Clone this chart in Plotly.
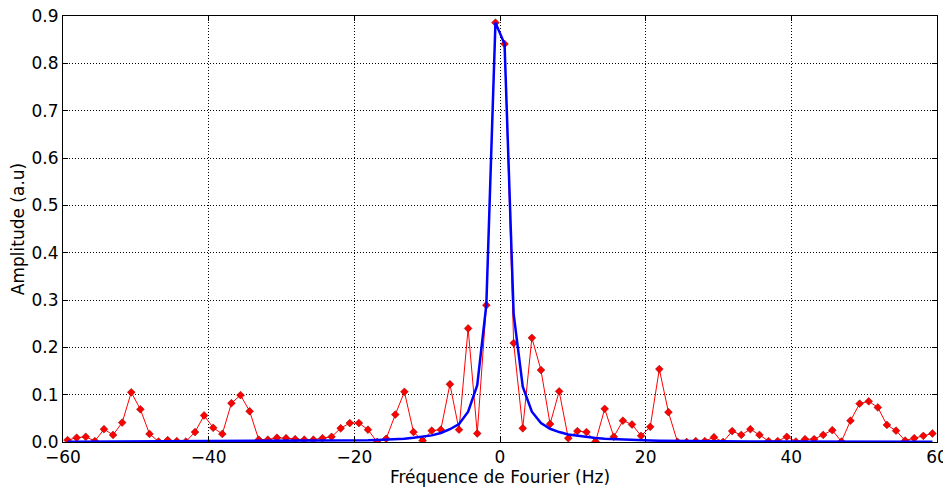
import plotly.graph_objects as go

# Frequency grid (Hz)
freqs = [-59.375 + 1.25 * k for k in range(96)]

# Measured spectrum (red diamonds)
amp_measured = [
    0.004, 0.009, 0.011, 0.002, 0.027, 0.015, 0.041, 0.105, 0.069, 0.017,
    0.001, 0.004, 0.002, 0.001, 0.021, 0.056, 0.030, 0.017, 0.082, 0.099,
    0.065, 0.005, 0.005, 0.009, 0.008, 0.006, 0.005, 0.005, 0.008, 0.011,
    0.029, 0.040, 0.040, 0.026, 0.000, 0.007, 0.058, 0.106, 0.021, 0.003,
    0.024, 0.026, 0.122, 0.026, 0.240, 0.018, 0.289, 0.886, 0.841, 0.209,
    0.029, 0.220, 0.152, 0.038, 0.107, 0.008, 0.023, 0.021, 0.001, 0.070,
    0.011, 0.045, 0.037, 0.013, 0.032, 0.154, 0.063, 0.000, 0.000, 0.002,
    0.002, 0.010, 0.000, 0.023, 0.015, 0.027, 0.015, 0.002, 0.002, 0.011,
    0.001, 0.006, 0.006, 0.015, 0.025, 0.001, 0.045, 0.081, 0.086, 0.073,
    0.036, 0.024, 0.003, 0.008, 0.013, 0.018,
]

# Fitted profile (blue line)
amp_fit = [
    0.0003, 0.0004, 0.0004, 0.0004, 0.0004, 0.0004, 0.0004, 0.0005, 0.0005, 0.0005,
    0.0005, 0.0006, 0.0006, 0.0006, 0.0007, 0.0007, 0.0008, 0.0008, 0.0009, 0.0010,
    0.0010, 0.0011, 0.0012, 0.0013, 0.0014, 0.0015, 0.0017, 0.0018, 0.0020, 0.0022,
    0.0025, 0.0028, 0.0032, 0.0037, 0.0043, 0.0050, 0.0060, 0.0070, 0.0090, 0.0110,
    0.0140, 0.0190, 0.0270, 0.0380, 0.0640, 0.1200, 0.2900, 0.8860, 0.8410, 0.2700,
    0.1170, 0.0640, 0.0400, 0.0280, 0.0210, 0.0160, 0.0130, 0.0100, 0.0085, 0.0070,
    0.0060, 0.0050, 0.0043, 0.0037, 0.0032, 0.0028, 0.0025, 0.0022, 0.0020, 0.0018,
    0.0017, 0.0015, 0.0014, 0.0013, 0.0012, 0.0011, 0.0010, 0.0010, 0.0009, 0.0008,
    0.0008, 0.0007, 0.0007, 0.0006, 0.0006, 0.0006, 0.0005, 0.0005, 0.0005, 0.0005,
    0.0004, 0.0004, 0.0004, 0.0004, 0.0004, 0.0003,
]

x_ticks = [-60, -40, -20, 0, 20, 40, 60]
x_tick_text = ["\u221260", "\u221240", "\u221220", "0", "20", "40", "60"]
y_ticks = [0.0, 0.1, 0.2, 0.3, 0.4, 0.5, 0.6, 0.7, 0.8, 0.9]
y_tick_text = [f"{v:.1f}" for v in y_ticks]

fig = go.Figure()
fig.add_trace(go.Scatter(
    x=freqs, y=amp_measured, mode="lines+markers",
    line=dict(color="#ff0000", width=1),
    marker=dict(symbol="diamond", size=6, color="#ff0000",
                line=dict(color="#800000", width=0.5)),
    showlegend=False,
))
fig.add_trace(go.Scatter(
    x=freqs, y=amp_fit, mode="lines",
    line=dict(color="#0000ff", width=2.5),
    showlegend=False,
))

font_family = "DejaVu Sans"
axis_common = dict(
    showline=True, linecolor="black", linewidth=1, mirror="ticks",
    ticks="inside", ticklen=5, tickcolor="black",
    showgrid=True, gridcolor="black", griddash="1px,2px", gridwidth=0.7,
    zeroline=False, automargin=False, ticklabeloverflow="allow",
    tickfont=dict(family=font_family, size=17, color="black"),
)

# page body has an 8px margin, so the figure is offset by (8, 8)
fig.update_layout(
    width=943, height=486,
    margin=dict(l=55, r=14, t=8, b=52),
    paper_bgcolor="white", plot_bgcolor="white",
    font=dict(family=font_family, size=17, color="black"),
    xaxis=dict(range=[-60, 60], tickvals=x_ticks, ticktext=x_tick_text,
               title=dict(text="Fréquence de Fourier (Hz)", standoff=4,
                          font=dict(family=font_family, size=17)),
               **axis_common),
    yaxis=dict(range=[0, 0.9], tickvals=y_ticks, ticktext=y_tick_text,
               title=dict(text="Amplitude (a.u)", standoff=6,
                          font=dict(family=font_family, size=17)),
               **axis_common),
)

fig.write_html("out.html")
